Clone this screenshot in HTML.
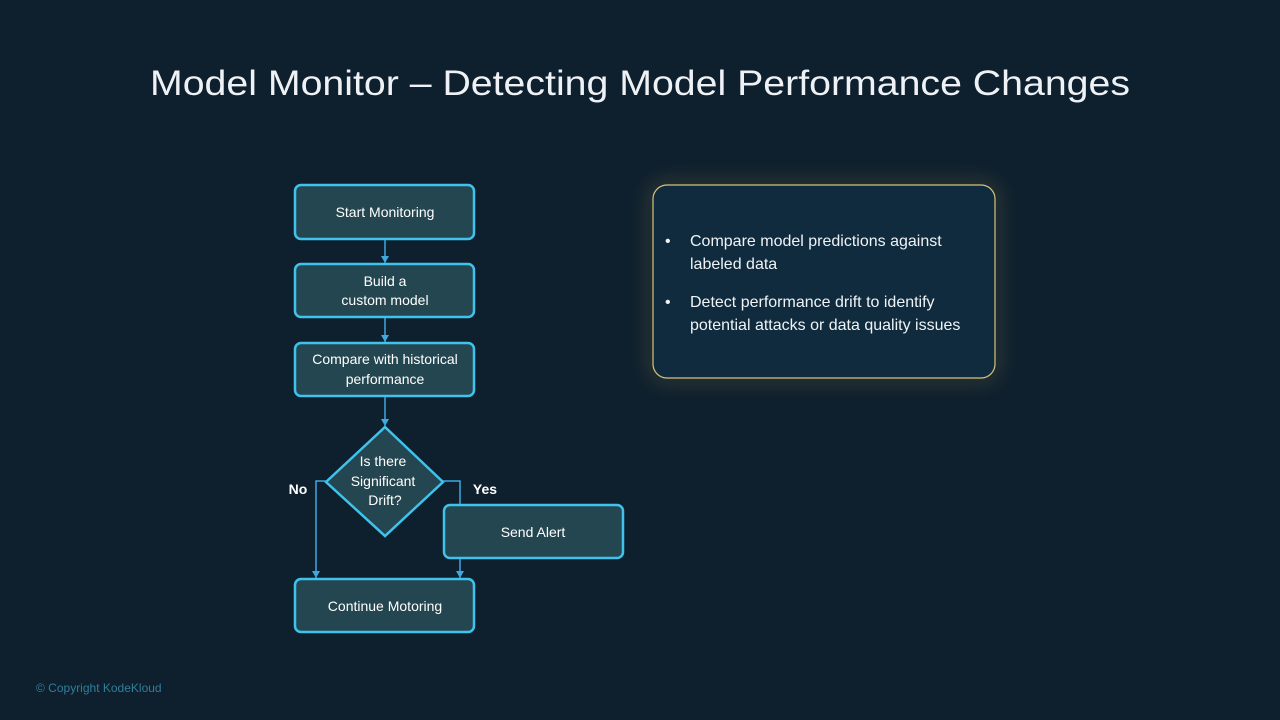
<!DOCTYPE html>
<html><head><meta charset="utf-8"><style>
html,body{margin:0;padding:0;background:#0e1f2d;}
svg{display:block}
text{font-family:"Liberation Sans",sans-serif;}
</style></head><body>
<svg width="1280" height="720" viewBox="0 0 1280 720" xmlns="http://www.w3.org/2000/svg">
<defs>
<filter id="glow" x="-20%" y="-20%" width="140%" height="140%"><feGaussianBlur stdDeviation="10"/></filter>
<marker id="ar" markerWidth="8" markerHeight="8" refX="7" refY="4" orient="auto" markerUnits="userSpaceOnUse"><path d="M0,0 L7,4 L0,8 z" fill="#3fa9e0"/></marker>
</defs>
<rect width="1280" height="720" fill="#0e1f2d"/>
<text x="640" y="95" text-anchor="middle" font-size="35" fill="#eef2f6" textLength="980" lengthAdjust="spacingAndGlyphs">Model Monitor – Detecting Model Performance Changes</text>

<g fill="#244650" stroke="#3fc3ec" stroke-width="2.5">
<rect x="295" y="185" width="179" height="54" rx="6"/>
<rect x="295" y="264" width="179" height="53" rx="6"/>
<rect x="295" y="343" width="179" height="53" rx="6"/>
<polygon points="385,427 443,482 385,536 326,482"/>
<rect x="444" y="505" width="179" height="53" rx="6"/>
<rect x="295" y="579" width="179" height="53" rx="6"/>
</g>
<g stroke="#3fa9e0" stroke-width="1.5" fill="none">
<line x1="385" y1="240" x2="385" y2="263" marker-end="url(#ar)"/>
<line x1="385" y1="318" x2="385" y2="342" marker-end="url(#ar)"/>
<line x1="385" y1="397" x2="385" y2="426" marker-end="url(#ar)"/>
<polyline points="326,481 316,481 316,578" marker-end="url(#ar)"/>
<polyline points="443,481 460,481 460,504"/>
<line x1="460" y1="559" x2="460" y2="578" marker-end="url(#ar)"/>
</g>
<g fill="#ffffff" font-size="14" text-anchor="middle">
<text x="385" y="217">Start Monitoring</text>
<text x="385" y="286">Build a</text>
<text x="385" y="305">custom model</text>
<text x="385" y="364">Compare with historical</text>
<text x="385" y="384">performance</text>
<text x="383" y="466">Is there</text>
<text x="383" y="486">Significant</text>
<text x="385" y="505">Drift?</text>
<text x="533" y="537">Send Alert</text>
<text x="385" y="611">Continue Motoring</text>
<text x="298" y="494" font-weight="bold">No</text>
<text x="485" y="494" font-weight="bold">Yes</text>
</g>

<rect x="653" y="185" width="342" height="193" rx="14" fill="none" stroke="#d8c06a" stroke-width="6" opacity="0.35" filter="url(#glow)"/>
<rect x="653" y="185" width="342" height="193" rx="14" fill="#0f2b3d" stroke="#d6c27a" stroke-width="1.2"/>
<g fill="#f0f3f6" font-size="16">
<text x="665" y="246">•</text>
<text x="690" y="246">Compare model predictions against</text>
<text x="690" y="269">labeled data</text>
<text x="665" y="307">•</text>
<text x="690" y="307">Detect performance drift to identify</text>
<text x="690" y="330">potential attacks or data quality issues</text>
</g>
<text x="36" y="692" font-size="12" fill="#2f7f9a">© Copyright KodeKloud</text>
</svg>
</body></html>
